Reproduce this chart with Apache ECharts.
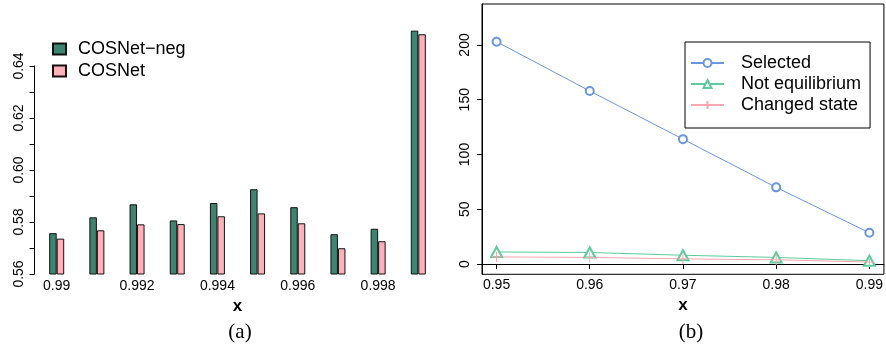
<!DOCTYPE html>
<html>
<head>
<meta charset="utf-8">
<script src="https://cdn.jsdelivr.net/npm/echarts@6/dist/echarts.min.js"></script>
<style>
html,body{margin:0;padding:0;background:#fff;}
#c{width:886px;height:345px;}
</style>
</head>
<body>
<div id="c"></div>
<script>
// ---- panel (a) data ----
var categoriesA = ['0.99','0.991','0.992','0.993','0.994','0.995','0.996','0.997','0.998','0.999'];
var cosnetNeg = [0.5757,0.5818,0.5868,0.5806,0.5873,0.5926,0.5857,0.5753,0.5774,0.6536];
var cosnet    = [0.5736,0.5768,0.5791,0.5792,0.5822,0.5833,0.5795,0.5699,0.5726,0.6522];
var yLabelsA = [0.56,0.58,0.60,0.62,0.64];
var yTicksA  = [0.56,0.57,0.58,0.59,0.60,0.61,0.62,0.63,0.64];

// ---- panel (b) data ----
var xB = [0.95,0.96,0.97,0.98,0.99];
var selected = [203,158,114,70,28.5];
var notEquilibrium = [11,10.5,8,6,3];
var changedState = [6.5,6,4.7,3.8,1.8];
var yLabelsB = [0,50,100,150,200];

function pairs(xs, ys){ return xs.map(function(x,i){ return [x, ys[i]]; }); }

var FONT = 'Liberation Sans';
var chart = echarts.init(document.getElementById('c'), null, {renderer:'canvas'});
var option = {
  animation:false,
  backgroundColor:'#fff',
  textStyle:{fontFamily:FONT},
  title:[
    {text:'(a)', left:235, top:317, textAlign:'center',
     textStyle:{fontFamily:'Liberation Serif', fontSize:21, fontWeight:'normal', color:'#000'}},
    {text:'(b)', left:686, top:317, textAlign:'center',
     textStyle:{fontFamily:'Liberation Serif', fontSize:21, fontWeight:'normal', color:'#000'}}
  ],
  legend:[
    {data:['COSNet−neg','COSNet'], orient:'vertical', left:47, top:35,
     icon:'rect', itemWidth:13, itemHeight:11, itemGap:4,
     textStyle:{fontFamily:FONT, fontSize:18, color:'#000', padding:[0,0,0,7]}},
    {data:['Selected','Not equilibrium','Changed state'], orient:'vertical', left:685, top:42,
     itemWidth:33, itemHeight:10, itemGap:3,
     borderColor:'#000', borderWidth:1, padding:[12,9,14,5], backgroundColor:'#fff',
     textStyle:{fontFamily:FONT, fontSize:18, color:'#000', padding:[0,0,0,12]}}
  ],
  grid:[
    {left:36.6, right:447.6, top:14, bottom:71},
    {left:482, right:-2, top:4, bottom:70.7, show:true, borderColor:'#000', borderWidth:1},
    {left:36.6, right:447.6, top:66, bottom:71}
  ],
  xAxis:[
    {type:'category', gridIndex:0, data:categoriesA,
     axisLine:{show:false}, axisTick:{show:false},
     axisLabel:{interval:1, fontSize:14, color:'#000', margin:5, fontFamily:FONT},
     name:'x', nameLocation:'middle', nameGap:22,
     nameTextStyle:{fontSize:17, fontWeight:'bold', color:'#000', fontFamily:FONT}},
    {type:'value', gridIndex:1, min:0.94844, max:0.99156,
     axisLine:{show:true, lineStyle:{color:'#000'}},
     axisTick:{show:true, length:5, lineStyle:{color:'#000'}, customValues:xB},
     axisLabel:{fontSize:14, color:'#000', margin:4, fontFamily:FONT, customValues:xB,
       formatter:function(v){return v.toFixed(2);}},
     splitLine:{show:false},
     name:'x', nameLocation:'middle', nameGap:22,
     nameTextStyle:{fontSize:17, fontWeight:'bold', color:'#000', fontFamily:FONT}},
    {type:'category', gridIndex:2, data:categoriesA, show:false}
  ],
  yAxis:[
    {type:'value', gridIndex:0, min:0.56, max:0.66, show:false, splitLine:{show:false}},
    {type:'value', gridIndex:1, min:-9.4, max:237.4,
     axisLine:{show:true, lineStyle:{color:'#000'}},
     axisTick:{show:true, length:5, lineStyle:{color:'#000'}, customValues:yLabelsB},
     axisLabel:{rotate:90, fontSize:14, color:'#000', margin:10, fontFamily:FONT, customValues:yLabelsB},
     splitLine:{show:false}},
    {type:'value', gridIndex:2, min:0.56, max:0.64, offset:2,
     axisLine:{show:true, lineStyle:{color:'#000'}},
     axisTick:{show:true, length:5, lineStyle:{color:'#000'}, customValues:yTicksA},
     axisLabel:{rotate:90, fontSize:14, color:'#000', margin:8, fontFamily:FONT, customValues:yLabelsA,
       formatter:function(v){return v.toFixed(2);}},
     splitLine:{show:false}}
  ],
  series:[
    {name:'COSNet−neg', type:'bar', xAxisIndex:0, yAxisIndex:0, data:cosnetNeg,
     barWidth:7.5, barGap:'0%',
     itemStyle:{color:'#3f8470', borderColor:'#111', borderWidth:1}},
    {name:'COSNet', type:'bar', xAxisIndex:0, yAxisIndex:0, data:cosnet,
     barWidth:7.5, barGap:'0%',
     itemStyle:{color:'#ffb0b9', borderColor:'#111', borderWidth:1}},
    {name:'Selected', type:'line', xAxisIndex:1, yAxisIndex:1, data:pairs(xB, selected),
     symbol:'emptyCircle', symbolSize:8,
     lineStyle:{color:'#6a96e0', width:1}, itemStyle:{color:'#6a96e0', borderWidth:1}},
    {name:'Not equilibrium', type:'line', xAxisIndex:1, yAxisIndex:1, data:pairs(xB, notEquilibrium),
     symbol:'emptyTriangle', symbolSize:[11,10],
     lineStyle:{color:'#5ccc9c', width:1}, itemStyle:{color:'#5ccc9c', borderWidth:1}},
    {name:'Changed state', type:'line', xAxisIndex:1, yAxisIndex:1, data:pairs(xB, changedState),
     symbol:'path://M5,0 L5,10 M0,5 L10,5', symbolSize:10,
     lineStyle:{color:'#f6a7b2', width:1},
     itemStyle:{color:'#f6a7b2', borderColor:'#f6a7b2', borderWidth:1}}
  ]
};
chart.setOption(option);
</script>
</body>
</html>
